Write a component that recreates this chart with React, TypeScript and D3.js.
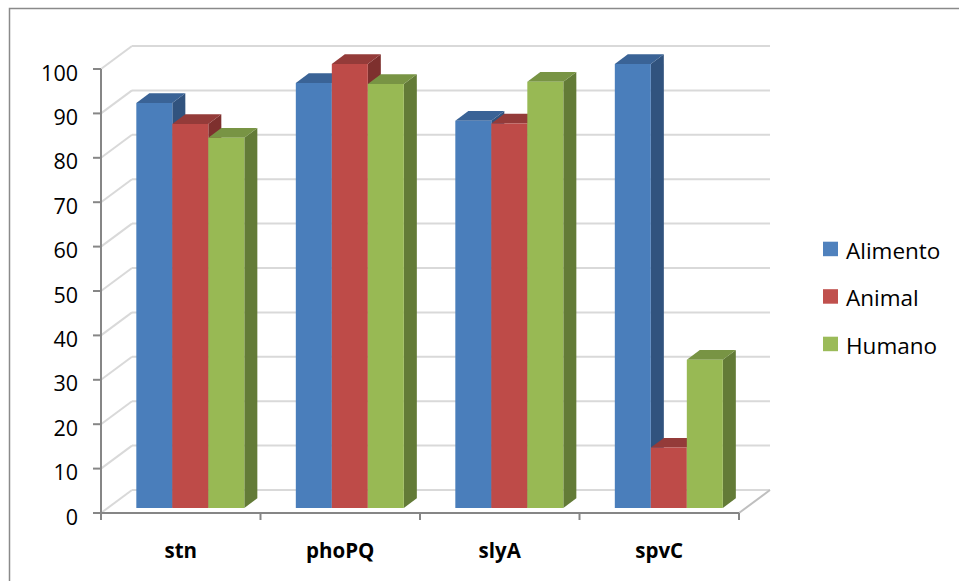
import React from "react";
import * as d3 from "d3";

const categories = ["stn", "phoPQ", "slyA", "spvC"];
const seriesNames = ["Alimento", "Animal", "Humano"];
const alimento = [91.2, 95.7, 87.2, 100];
const animal = [86.5, 100, 86.6, 13.6];
const humano = [83.4, 95.5, 96, 33.4];
const yTicks = [0, 10, 20, 30, 40, 50, 60, 70, 80, 90, 100];

const seriesValues = [alimento, animal, humano];
const frontColors = ["#4A7EBB", "#BE4B48", "#98B954"];
const topColors = ["#3A6396", "#943B39", "#789444"];
const sideColors = ["#31537E", "#7E302E", "#637B37"];
const legendColors = ["#4F81BD", "#C0504D", "#9BBB59"];

const W = 959;
const H = 581;
// projection
const wallDX = 31;
const wallDY = -23;
const barZ0 = 0.22;
const barDepth = 0.42;

const FONT = "'Open Sans', 'Noto Sans', sans-serif";

export default function App() {
  const y = d3.scaleLinear().domain([0, 100]).range([513, 69]);
  const x = d3.scaleBand().domain(categories).range([101, 739]).paddingInner(0).paddingOuter(0);
  const xBar = d3.scaleBand().domain(seriesNames).range([0, 108]);
  const groupInset = 28.5;

  const proj = (px: number, py: number, z: number): [number, number] => [px + z * wallDX, py + z * wallDY];

  const x0 = 101;
  const x1 = 739;

  const bars: React.ReactNode[] = [];
  categories.forEach((c, ci) => {
    seriesNames.forEach((s, si) => {
      const v = seriesValues[si][ci];
      const left = (x(c) as number) + groupInset + (xBar(s) as number);
      const right = left + xBar.bandwidth();
      const [fl, ft] = proj(left, y(v), barZ0);
      const [fr, fb] = proj(right, y(0), barZ0);
      const ddx = barDepth * wallDX;
      const ddy = barDepth * wallDY;
      const front = `M${fl},${ft}L${fr},${ft}L${fr},${fb}L${fl},${fb}Z`;
      const side = `M${fr},${ft}L${fr + ddx},${ft + ddy}L${fr + ddx},${fb + ddy}L${fr},${fb}Z`;
      const top = `M${fl},${ft}L${fr},${ft}L${fr + ddx},${ft + ddy}L${fl + ddx},${ft + ddy}Z`;
      bars.push(
        <g key={`${c}-${s}`}>
          <path d={side} fill={sideColors[si]} />
          <path d={top} fill={topColors[si]} />
          <path d={front} fill={frontColors[si]} />
        </g>
      );
    });
  });

  return (
    <svg width={W} height={H} style={{ position: "absolute", left: 0, top: 0, background: "#fff" }}>
      <rect x={9.5} y={8.5} width={980} height={600} fill="#fff" stroke="#8a8a8a" strokeWidth={1.5} />
      {/* back wall gridlines */}
      {yTicks.map((t) => {
        const [bx, by] = proj(x0, y(t), 1);
        const [ex] = proj(x1, y(t), 1);
        return (
          <g key={`g${t}`}>
            <line x1={bx} y1={by} x2={ex} y2={by} stroke="#D9D9D9" strokeWidth={2} />
            <line x1={x0} y1={y(t)} x2={bx} y2={by} stroke="#D9D9D9" strokeWidth={2} />
          </g>
        );
      })}
      {/* floor right edge */}
      {(() => {
        const [ex, ey] = proj(x1, y(0), 1);
        return <line x1={x1} y1={y(0)} x2={ex} y2={ey} stroke="#BFBFBF" strokeWidth={2} />;
      })()}
      {bars}
      {/* axes */}
      <line x1={x0} y1={y(100)} x2={x0} y2={y(0)} stroke="#868686" strokeWidth={2} />
      <line x1={x0 - 1} y1={y(0)} x2={x1} y2={y(0)} stroke="#868686" strokeWidth={2} />
      {yTicks.map((t) => (
        <g key={`yt${t}`}>
          <line x1={x0 - 8} y1={y(t)} x2={x0} y2={y(t)} stroke="#868686" strokeWidth={2} />
          <text x={78} y={y(t) + 3} textAnchor="end" dominantBaseline="central" fontFamily={FONT} fontSize={21.5} fill="#000">
            {t}
          </text>
        </g>
      ))}
      {[...categories.map((c) => x(c) as number), x1].map((px, i) => (
        <line key={`xt${i}`} x1={px} y1={y(0)} x2={px} y2={y(0) + 7} stroke="#868686" strokeWidth={2} />
      ))}
      {categories.map((c) => (
        <text key={`xl${c}`} x={(x(c) as number) + x.bandwidth() / 2} y={558} textAnchor="middle" fontFamily={FONT} fontWeight="bold" fontSize={20.5} fill="#000">
          {c}
        </text>
      ))}
      {/* legend */}
      {seriesNames.map((s, i) => (
        <g key={`lg${s}`} transform={`translate(823, ${241.7 + i * 47.5})`}>
          <rect x={0} y={0} width={15} height={14.5} fill={legendColors[i]} />
          <text x={23} y={17} fontFamily={FONT} fontSize={22.5} fill="#000">
            {s}
          </text>
        </g>
      ))}
    </svg>
  );
}
